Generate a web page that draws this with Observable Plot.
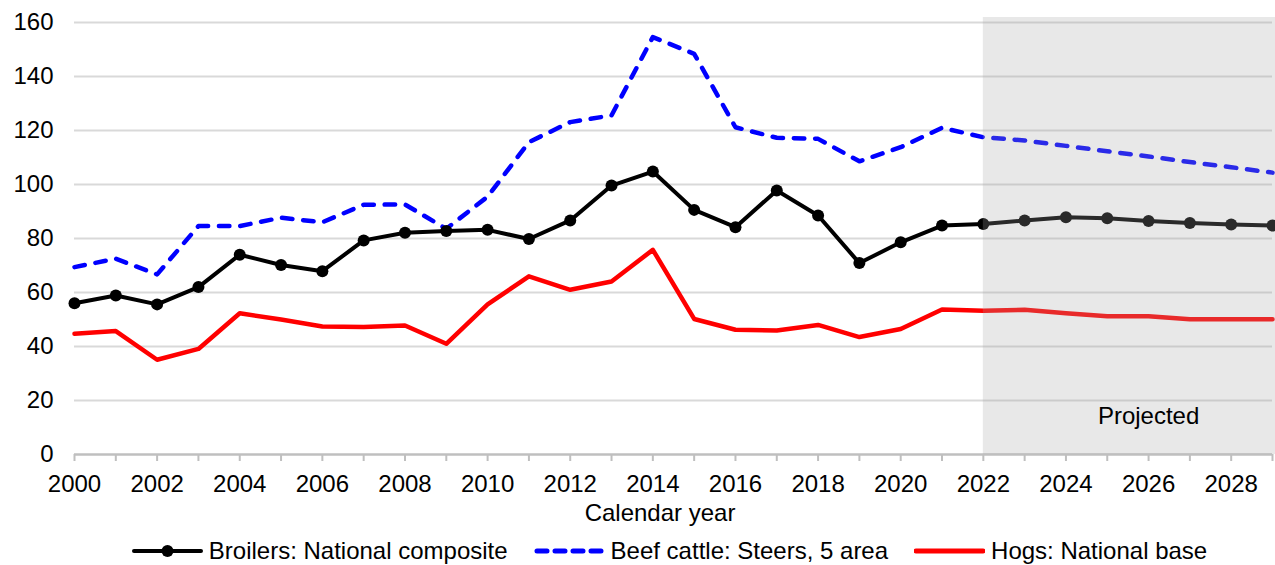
<!DOCTYPE html>
<html>
<head>
<meta charset="utf-8">
<script src="https://cdn.jsdelivr.net/npm/d3@7"></script>
<script src="https://cdn.jsdelivr.net/npm/@observablehq/plot@0.6"></script>
<style>
  html, body { margin: 0; padding: 0; background: #fff; }
  #wrap { position: relative; width: 1275px; height: 565px; font-family: "Liberation Sans", Arial, sans-serif; color: #000; }
  #xlabel { position: absolute; top: 501px; left: 660px; transform: translateX(-50%); font-size: 24px; line-height: 24px; white-space: nowrap; }
  #legend { position: absolute; top: 539px; left: 0; width: 1275px; box-sizing: border-box; padding-left: 64px; display: flex; justify-content: center; align-items: center; font-size: 24px; line-height: 24px; }
  .item { display: flex; align-items: center; margin: 0 13px; white-space: nowrap; }
  .item svg { margin-right: 6px; }
</style>
</head>
<body>
<div id="wrap">
  <div id="chart"></div>
  <div id="xlabel">Calendar year</div>
  <div id="legend"></div>
</div>
<script>
const years = [2000, 2001, 2002, 2003, 2004, 2005, 2006, 2007, 2008, 2009,
               2010, 2011, 2012, 2013, 2014, 2015, 2016, 2017, 2018, 2019,
               2020, 2021, 2022, 2023, 2024, 2025, 2026, 2027, 2028, 2029];
const broilers = [56.0, 58.9, 55.6, 62.0, 74.0, 70.2, 67.9, 79.3, 82.1, 82.8,
                  83.2, 79.8, 86.7, 99.6, 104.8, 90.6, 84.2, 97.8, 88.5, 70.9,
                  78.6, 84.8, 85.4, 86.7, 87.9, 87.5, 86.5, 85.7, 85.2, 84.8];
const beef = [69.4, 72.5, 66.7, 84.6, 84.6, 87.7, 86.0, 92.5, 92.6, 83.6,
              95.5, 115.7, 123.1, 125.6, 154.6, 148.4, 121.2, 117.3, 116.9, 108.6,
              113.8, 121.0, 117.5, 116.3, 114.3, 112.3, 110.4, 108.3, 106.4, 104.4];
const hogs = [44.7, 45.7, 35.1, 39.1, 52.3, 50.0, 47.4, 47.2, 47.8, 41.0,
              55.6, 66.0, 61.0, 64.1, 75.8, 50.2, 46.2, 45.9, 48.0, 43.5,
              46.5, 53.7, 53.2, 53.6, 52.3, 51.2, 51.2, 50.1, 50.1, 50.1];
const yTicks = [0, 20, 40, 60, 80, 100, 120, 140, 160];
const projected = [{start: 2022, end: 2029, label: "Projected", lx: 2026, ly: 11.4}];
const seriesNames = ["Broilers: National composite", "Beef cattle: Steers, 5 area", "Hogs: National base"];

const rows = (vals) => years.map((y, i) => ({year: y, value: vals[i]}));
const bro = rows(broilers), bee = rows(beef), hog = rows(hogs);

const plot = Plot.plot({
  width: 1275,
  height: 500,
  marginTop: 22,
  marginBottom: 46,
  marginLeft: 74,
  marginRight: 3,
  style: {fontFamily: "'Liberation Sans', Arial, sans-serif", fontSize: "24px", color: "#000", background: "#fff"},
  x: {domain: [2000, 2029], axis: null},
  y: {domain: [0, 160], axis: null},
  marks: [
    Plot.gridY(yTicks.filter(d => d > 0), {stroke: "#d9d9d9", strokeOpacity: 1, strokeWidth: 2}),
    Plot.axisY(yTicks, {tickSize: 0, tickPadding: 21, fontSize: 24, fill: "#000", tickFormat: d => String(d)}),
    Plot.axisX(years, {tickSize: 7, tickPadding: 13, stroke: "#bfbfbf", strokeWidth: 2, fill: "#000", fontSize: 24,
                       tickFormat: d => d % 2 === 0 ? String(d) : ""}),
    Plot.ruleY([0], {stroke: "#bfbfbf", strokeWidth: 2.5}),
    Plot.line(hog, {x: "year", y: "value", stroke: "#ff0000", strokeWidth: 4.5, strokeLinejoin: "round"}),
    Plot.line(bee, {x: "year", y: "value", stroke: "#0000ff", strokeWidth: 4.5, strokeDasharray: "10.5,10.8", strokeLinecap: "round", strokeLinejoin: "round"}),
    Plot.line(bro, {x: "year", y: "value", stroke: "#000", strokeWidth: 4, strokeLinejoin: "round"}),
    Plot.dot(bro, {x: "year", y: "value", r: 6, fill: "#000"}),
    Plot.rectY(projected, {x1: "start", x2: "end", y1: 0, y2: 160, insetTop: -5, insetRight: -3, fill: "#a5a5a5", fillOpacity: 0.255}),
    Plot.text(projected, {x: "lx", y: "ly", text: "label", fill: "#000", fontSize: 24, textAnchor: "middle", lineAnchor: "bottom"})
  ]
});
document.getElementById("chart").appendChild(plot);

// Legend
const legend = document.getElementById("legend");
const swatches = [
  `<svg width="71" height="14"><line x1="2" y1="7" x2="69" y2="7" stroke="#000" stroke-width="4" stroke-linecap="round"/><circle cx="35.5" cy="7" r="6" fill="#000"/></svg>`,
  `<svg width="71" height="14"><line x1="3" y1="7" x2="69" y2="7" stroke="#0000ff" stroke-width="5" stroke-dasharray="10,8" stroke-linecap="round"/></svg>`,
  `<svg width="71" height="14"><line x1="2" y1="7" x2="69" y2="7" stroke="#ff0000" stroke-width="5" stroke-linecap="round"/></svg>`
];
seriesNames.forEach((name, i) => {
  const el = document.createElement("div");
  el.className = "item";
  el.innerHTML = swatches[i] + `<span>${name}</span>`;
  legend.appendChild(el);
});
</script>
</body>
</html>
